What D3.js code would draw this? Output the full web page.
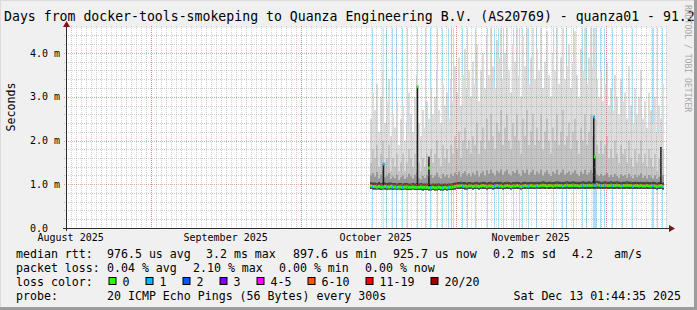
<!DOCTYPE html>
<html>
<head>
<meta charset="utf-8">
<script src="https://cdn.jsdelivr.net/npm/d3@7"></script>
<style>
  html, body { margin: 0; padding: 0; background: #f0f0f0; }
  svg { display: block; }
  text { font-family: "DejaVu Sans Mono", monospace; white-space: pre; }
</style>
</head>
<body>
<svg id="chart" width="697" height="310"></svg>
<script>
// ---- data ----
const title = 'Days from docker-tools-smokeping to Quanza Engineering B.V. (AS20769) - quanza01 - 91.2';
const yTicks = [0, 1, 2, 3, 4];
const yTickLabels = ['0.0  ', '1.0 m', '2.0 m', '3.0 m', '4.0 m'];
const monthLabelFormat = '%B %Y';

// one sample every 9.6 h from 2025-10-14 21:00, values in ms
const medianMs = [
  0.96,0.95,0.95,0.94,0.95,0.94,0.94,0.95,0.94,0.94, 0.95,0.94,0.94,0.93,0.94,0.94,0.93,0.94,0.94,0.93,
  0.93,0.94,0.93,0.93,0.93,0.94,0.93,0.93,0.93,0.92, 0.92,0.93,0.92,0.92,0.93,0.92,0.92,0.93,0.92,0.93,
  0.93,0.94,0.95,0.96,0.96,0.97,0.96,0.96,0.95,0.96, 0.96,0.95,0.96,0.96,0.95,0.96,0.97,0.96,0.95,0.96,
  0.96,0.95,0.96,0.97,0.96,0.96,0.95,0.96,0.97,0.96, 0.95,0.96,0.96,0.97,0.96,0.95,0.96,0.97,0.96,0.96,
  0.97,0.96,0.96,0.97,0.96,0.97,0.98,0.97,0.96,0.97, 0.97,0.96,0.97,0.98,0.97,0.97,0.96,0.97,0.98,0.97,
  0.97,0.98,0.97,0.97,0.96,0.97,0.98,0.97,0.97,0.98, 0.97,0.98,0.97,0.99,0.98,0.97,0.97,0.98,0.97,0.97,
  0.98,0.97,0.97,0.98,0.97,0.96,0.97,0.97,0.98,0.97, 0.97,0.96,0.97,0.97,0.96,0.97,0.96,0.96,0.97,0.96,
  0.96,0.97,0.96,0.95,0.96,0.96,0.95,0.95];
const smokeLowMs = [
  0.89,0.88,0.88,0.88,0.88,0.87,0.88,0.88,0.87,0.88, 0.88,0.87,0.88,0.87,0.88,0.87,0.87,0.88,0.87,0.87,
  0.87,0.88,0.87,0.87,0.87,0.87,0.86,0.87,0.87,0.86, 0.86,0.87,0.86,0.86,0.87,0.86,0.86,0.87,0.86,0.87,
  0.87,0.87,0.88,0.89,0.89,0.89,0.89,0.88,0.88,0.89, 0.89,0.88,0.89,0.89,0.88,0.89,0.89,0.89,0.88,0.89,
  0.89,0.88,0.89,0.89,0.89,0.89,0.88,0.89,0.89,0.89, 0.88,0.89,0.89,0.89,0.89,0.88,0.89,0.89,0.89,0.89,
  0.89,0.89,0.89,0.90,0.89,0.89,0.90,0.89,0.89,0.89, 0.89,0.89,0.89,0.90,0.89,0.89,0.89,0.89,0.90,0.89,
  0.89,0.90,0.89,0.89,0.89,0.89,0.90,0.89,0.89,0.90, 0.89,0.90,0.89,0.90,0.90,0.89,0.89,0.90,0.89,0.89,
  0.90,0.89,0.89,0.90,0.89,0.89,0.89,0.89,0.90,0.89, 0.89,0.89,0.89,0.89,0.89,0.89,0.89,0.89,0.89,0.89,
  0.89,0.89,0.89,0.88,0.89,0.89,0.88,0.88];
const smokeDarkMs = [
  1.05,1.04,1.04,1.03,1.05,1.03,1.04,1.04,1.03,1.04, 1.04,1.03,1.03,1.02,1.03,1.03,1.02,1.03,1.03,1.02,
  1.02,1.03,1.02,1.03,1.02,1.03,1.02,1.02,1.02,1.01, 1.01,1.02,1.01,1.02,1.02,1.01,1.01,1.02,1.01,1.02,
  1.02,1.03,1.04,1.05,1.05,1.06,1.05,1.05,1.04,1.05, 1.05,1.04,1.05,1.06,1.04,1.05,1.06,1.05,1.04,1.05,
  1.06,1.04,1.05,1.06,1.05,1.06,1.04,1.05,1.06,1.05, 1.04,1.05,1.05,1.06,1.05,1.04,1.05,1.06,1.05,1.05,
  1.06,1.05,1.05,1.06,1.05,1.06,1.07,1.06,1.05,1.06, 1.06,1.05,1.06,1.07,1.06,1.06,1.05,1.06,1.07,1.06,
  1.06,1.07,1.06,1.06,1.05,1.06,1.07,1.06,1.06,1.07, 1.06,1.07,1.06,1.08,1.07,1.06,1.06,1.07,1.06,1.06,
  1.07,1.06,1.06,1.07,1.06,1.05,1.06,1.06,1.07,1.06, 1.06,1.05,1.06,1.06,1.05,1.06,1.05,1.05,1.06,1.05,
  1.05,1.06,1.05,1.04,1.05,1.05,1.04,1.04];
const smokeGreyMs = [
  1.20,1.26,1.18,1.28,1.14,1.22,1.30,1.16,1.20,1.26, 1.12,1.18,1.14,1.22,1.10,1.16,1.20,1.12,1.16,1.24,
  1.18,1.13,1.22,1.28,1.15,1.11,1.19,1.14,1.21,1.16, 1.22,1.15,1.20,1.27,1.17,1.13,1.24,1.18,1.22,1.15,
  1.24,1.19,1.27,1.21,1.29,1.17,1.25,1.30,1.20,1.25, 1.18,1.27,1.22,1.31,1.18,1.25,1.30,1.20,1.32,1.24,
  1.33,1.26,1.20,1.31,1.27,1.34,1.22,1.29,1.33,1.24, 1.20,1.30,1.26,1.33,1.24,1.19,1.32,1.26,1.34,1.22,
  1.28,1.33,1.22,1.29,1.24,1.33,1.20,1.27,1.32,1.24, 1.19,1.29,1.24,1.33,1.22,1.27,1.34,1.22,1.26,1.30,
  1.21,1.27,1.32,1.24,1.19,1.29,1.24,1.33,1.22,1.27, 1.33,1.26,1.32,1.22,1.19,1.24,1.19,1.22,1.26,1.17,
  1.21,1.17,1.24,1.19,1.15,1.23,1.19,1.21,1.15,1.24, 1.18,1.14,1.22,1.16,1.20,1.25,1.15,1.19,1.13,1.21,
  1.17,1.13,1.20,1.12,1.17,1.15,1.21,1.11];
const smokeMidMs = [
  1.5,1.8,1.6,1.9,1.4,1.7,2.0,1.5,1.6,1.9, 1.3,1.6,1.4,1.7,1.3,1.5,1.7,1.3,1.5,1.8,
  1.6,1.4,1.7,2.0,1.5,1.3,1.6,1.4,1.7,1.5, 1.8,1.5,1.7,2.0,1.6,1.4,1.9,1.6,1.8,1.5,
  1.9,1.7,2.1,1.8,2.2,1.6,2.0,2.3,1.8,2.0, 1.7,2.1,1.9,2.4,1.7,2.0,2.3,1.8,2.5,2.0,
  2.6,2.1,1.8,2.4,2.2,2.7,1.9,2.3,2.6,2.0, 1.8,2.4,2.1,2.6,2.0,1.7,2.5,2.1,2.7,1.9,
  2.2,2.6,1.9,2.3,2.0,2.6,1.8,2.2,2.5,2.0, 1.7,2.3,2.0,2.6,1.9,2.2,2.7,1.9,2.1,2.4,
  1.8,2.2,2.5,2.0,1.7,2.3,2.0,2.6,1.9,2.2, 2.6,2.1,2.5,1.9,1.7,2.0,1.7,1.9,2.1,1.6,
  1.8,1.6,2.0,1.7,1.5,1.9,1.7,1.8,1.5,2.0, 1.6,1.4,1.8,1.5,1.7,2.0,1.5,1.7,1.4,1.8,
  1.6,1.4,1.7,1.3,1.6,1.5,1.8,1.3];
const smokeTopMs = [
  2.5,3.1,2.7,3.3,2.2,3.0,3.6,2.4,2.9,3.4, 2.1,2.6,2.3,2.9,1.9,2.5,2.8,2.0,2.4,3.1,
  2.6,2.2,3.0,3.5,2.4,2.1,2.7,2.3,2.9,2.5, 3.2,2.6,3.0,3.6,2.7,2.4,3.3,2.8,3.1,2.5,
  3.4,2.9,3.7,3.1,3.9,2.8,3.5,4.1,3.2,3.6, 3.0,3.8,3.3,4.2,2.9,3.6,4.0,3.2,4.4,3.5,
  4.6,3.7,3.2,4.3,3.9,4.6,3.4,4.0,4.6,3.6, 3.1,4.2,3.8,4.6,3.5,3.0,4.4,3.7,4.6,3.3,
  3.9,4.6,3.4,4.1,3.6,4.6,3.2,3.8,4.5,3.5, 3.0,4.0,3.6,4.6,3.3,3.9,4.6,3.4,3.7,4.2,
  3.2,3.8,4.5,3.5,3.0,4.1,3.6,4.6,3.3,3.9, 4.6,3.7,4.6,3.4,3.0,3.6,2.9,3.3,3.8,2.8,
  3.2,2.7,3.5,3.0,2.6,3.4,2.9,3.1,2.5,3.7, 2.8,2.4,3.2,2.6,3.0,3.6,2.5,2.9,2.3,3.1,
  2.7,2.4,3.0,2.2,2.8,2.5,3.3,2.1];

// one-step spikes where the whole ping set jumped (days since 2025-10-01)
const spikeDays = [16.4, 23.2, 25.5, 58.45, 58.65, 71.9];
const spikeTopMs = [1.46, 3.23, 1.63, 2.55, 1.65, 1.85];
const spikeMedMs = [1.46, 3.23, 1.37, 2.54, 1.63, 0.97];
const spikeLoss = [1, 0, 0, 1, 0, 0];

// packet loss events (days since 2025-10-01), width in days
const lossDays = [14.28, 16.4, 17.08, 18.28, 19.08, 20.28, 21.28, 23.28, 24.88, 25.88, 27.28, 28.28, 29.48,
  30.08, 30.48, 32.28, 33.28, 34.88, 37.28, 38.68, 39.48, 40.48, 42.48, 43.68, 44.28, 45.48, 47.08,
  50.48, 52.28, 53.08, 54.48, 56.28, 57.08, 58.42, 59.88, 60.68, 62.28, 64.28, 66.28, 70.28, 71.28, 72.28];
const lossWidth = [0.2, 0.2, 0.2, 0.2, 0.2, 0.2, 0.2, 0.2, 0.2, 0.2, 0.2, 0.2, 0.2,
  0.2, 0.2, 0.2, 0.2, 0.2, 0.2, 0.2, 0.2, 0.2, 0.2, 0.2, 0.2, 0.2, 0.2,
  0.2, 0.2, 0.2, 0.2, 0.2, 0.2, 0.8, 0.2, 0.2, 0.2, 0.2, 0.2, 0.4, 0.2, 0.2];

const lossColorNames = ['0', '1', '2', '3', '4-5', '6-10', '11-19', '20/20'];
const lossColors = ['#26ff00', '#00b8ff', '#0059ff', '#7e00ff', '#ff00ff', '#ff5500', '#ff0000', '#a10000'];

const legendRtt = [['median rtt:', 16], ['976.5 us avg', 107], ['3.2 ms max', 206], ['897.6 us min', 293],
  ['925.7 us now', 393], ['0.2 ms sd', 493], ['4.2', 572], ['am/s', 614]];
const legendLoss = [['packet loss:', 16], ['0.04 % avg', 107], ['2.10 % max', 193], ['0.00 % min', 279], ['0.00 % now', 365]];
const probeText = '20 ICMP Echo Pings (56 Bytes) every 300s';
const stampText = 'Sat Dec 13 01:44:35 2025';

// ---- layout ----
const W = 697, H = 310;
const X0 = 66, X1 = 666, Y0 = 228, Y1 = 28;
const start = new Date('2025-08-15T01:44:35Z');
const end = new Date('2025-12-13T01:44:35Z');
const dataStart = new Date('2025-10-14T21:00:00Z');
const stepMs = 9.6 * 3600e3;
const oct1 = Date.UTC(2025, 9, 1);

const x = d3.scaleUtc().domain([start, end]).range([X0, X1]);
const y = d3.scaleLinear().domain([0, 200 / 43.75]).range([Y0, Y1]);

const svg = d3.select('#chart');
svg.append('rect').attr('width', W).attr('height', H).attr('fill', '#f0f0f0');
svg.append('rect').attr('x', X0).attr('y', Y1).attr('width', X1 - X0).attr('height', Y0 - Y1).attr('fill', '#fff');

svg.append('clipPath').attr('id', 'plot')
  .append('rect').attr('x', X0).attr('y', Y1).attr('width', X1 - X0).attr('height', Y0 - Y1);
const g = svg.append('g').attr('clip-path', 'url(#plot)');

const samples = medianMs.map((m, i) => ({
  t: new Date(+dataStart + i * stepMs),
  med: m, low: smokeLowMs[i], dark: smokeDarkMs[i], grey: smokeGreyMs[i], mid: smokeMidMs[i], top: smokeTopMs[i]
}));
const dayDate = d => new Date(oct1 + d * 864e5);

// loss background
g.selectAll('rect.lossbg').data(lossDays).enter().append('rect')
  .attr('x', d => x(dayDate(d)))
  .attr('y', Y1)
  .attr('width', (d, i) => x(dayDate(d + lossWidth[i])) - x(dayDate(d)))
  .attr('height', Y0 - Y1)
  .attr('fill', '#a6e2fb');

// smoke: outer ping pairs light, inner ones dark (smokeping grey ramp)
const band = hi => d3.area().curve(d3.curveStepAfter)
  .x(d => x(d.t)).y0(d => y(d.low)).y1(d => y(d[hi]));
[['top', '#dddddd'], ['mid', '#c4c4c4'], ['grey', '#999999'], ['dark', '#454545']].forEach(([k, c]) => {
  g.append('path').attr('d', band(k)(samples)).attr('fill', c);
});

// spikes
spikeDays.forEach((d, i) => {
  g.append('rect').attr('x', x(dayDate(d))).attr('width', 1.6)
    .attr('y', y(spikeTopMs[i])).attr('height', y(0.92) - y(spikeTopMs[i])).attr('fill', '#1e1e1e');
});

// median
const medArea = d3.area().curve(d3.curveStepAfter)
  .x(d => x(d.t)).y0(d => y(d.med) + 1.5).y1(d => y(d.med) - 1.5);
g.append('path').attr('d', medArea(samples)).attr('fill', lossColors[0]);
const medAt = t => samples[Math.max(0, Math.min(samples.length - 1, Math.floor((t - dataStart) / stepMs)))].med;
lossDays.forEach((d, i) => {
  const t = dayDate(d);
  g.append('rect').attr('x', x(t)).attr('width', x(dayDate(d + lossWidth[i])) - x(t))
    .attr('y', y(medAt(t)) - 1.5).attr('height', 3).attr('fill', lossColors[1]);
});
spikeDays.forEach((d, i) => {
  g.append('rect').attr('x', x(dayDate(d))).attr('width', 2)
    .attr('y', y(spikeMedMs[i]) - 1.5).attr('height', 3).attr('fill', lossColors[spikeLoss[i]]);
});

// grid (drawn over the graph like rrdtool)
const grid = svg.append('g');
const gridCol = 'rgba(140,140,140,0.4)', mgridCol = 'rgba(230,60,60,0.45)';
const minorY = d3.range(1, 23).map(k => k * 0.2).filter(v => Math.abs(v - Math.round(v)) > 0.01);
grid.selectAll('line.hy').data(minorY).enter().append('line')
  .attr('x1', X0 - 2).attr('x2', X1 + 2).attr('y1', d => Math.round(y(d)) + 0.5).attr('y2', d => Math.round(y(d)) + 0.5)
  .attr('stroke', gridCol).attr('stroke-dasharray', '1,1');
const days = d3.utcDay.range(start, end);
grid.selectAll('line.vx').data(days).enter().append('line')
  .attr('x1', d => Math.round(x(d)) + 0.5).attr('x2', d => Math.round(x(d)) + 0.5)
  .attr('y1', Y1 - 2).attr('y2', Y0 + 2)
  .attr('stroke', gridCol).attr('stroke-dasharray', '1,1');
grid.selectAll('line.my').data(yTicks.slice(1)).enter().append('line')
  .attr('x1', X0 - 2).attr('x2', X1 + 2).attr('y1', d => Math.round(y(d)) + 0.5).attr('y2', d => Math.round(y(d)) + 0.5)
  .attr('stroke', mgridCol).attr('stroke-dasharray', '1,1');
const months = d3.utcMonth.range(start, end);
grid.selectAll('line.mx').data(months).enter().append('line')
  .attr('x1', d => Math.round(x(d)) + 0.5).attr('x2', d => Math.round(x(d)) + 0.5)
  .attr('y1', Y1 - 2).attr('y2', Y0 + 2)
  .attr('stroke', mgridCol).attr('stroke-dasharray', '1,1');

// axes
const axisCol = '#2c2c2c';
svg.append('line').attr('x1', X0 - 3).attr('x2', X1 + 4).attr('y1', Y0 + 0.5).attr('y2', Y0 + 0.5).attr('stroke', axisCol);
svg.append('line').attr('x1', X0 + 0.5).attr('x2', X0 + 0.5).attr('y1', Y0 + 3).attr('y2', Y1 - 4).attr('stroke', axisCol);
svg.append('path').attr('d', `M${X1 + 3},${Y0 - 3}L${X1 + 9},${Y0 + 0.5}L${X1 + 3},${Y0 + 4}Z`).attr('fill', '#7f1414');
svg.append('path').attr('d', `M${X0 - 3},${Y1 - 1}L${X0 + 0.5},${Y1 - 7}L${X0 + 4},${Y1 - 1}Z`).attr('fill', '#7f1414');

// y labels
svg.selectAll('text.yl').data(yTicks).enter().append('text')
  .attr('x', 60).attr('y', d => y(d) + 3.5).attr('text-anchor', 'end')
  .attr('font-size', 10).text((d, i) => yTickLabels[i]);
// x labels: centred 15 days after month start, like rrdtool; only those that fit
const fmt = d3.utcFormat(monthLabelFormat);
const labelMonths = d3.utcMonth.range(d3.utcMonth.floor(start), end)
  .filter(d => +d + 15 * 864e5 <= +end - 15 * 864e5);
svg.selectAll('text.xl').data(labelMonths).enter().append('text')
  .attr('x', d => x(new Date(+d + 15 * 864e5))).attr('y', 241)
  .attr('text-anchor', 'middle').attr('font-size', 10).text(d => fmt(d));

// titles
svg.append('text').attr('x', 4).attr('y', 21).attr('font-size', 13.2).text(title);
svg.append('text').attr('transform', 'translate(14.5,107) rotate(-90)').attr('text-anchor', 'middle')
  .attr('font-size', 11.6).text('Seconds');
svg.append('text').attr('transform', 'translate(685,5) rotate(90)').attr('font-size', 8.1)
  .attr('fill', '#a8a8a8').text('RRDTOOL / TOBI OETIKER');

// legend
const lg = svg.append('g').attr('font-size', 11.6);
legendRtt.forEach(([t, px]) => lg.append('text').attr('x', px).attr('y', 258).text(t));
legendLoss.forEach(([t, px]) => lg.append('text').attr('x', px).attr('y', 272).text(t));
lg.append('text').attr('x', 16).attr('y', 286).text('loss color:');
let lx = 108.5;
lossColorNames.forEach((n, i) => {
  lg.append('rect').attr('x', lx + 0.5).attr('y', 277.5).attr('width', 7).attr('height', 7)
    .attr('fill', lossColors[i]).attr('stroke', '#000');
  lg.append('text').attr('x', lx + 14).attr('y', 286).text(n);
  lx += 14 + n.length * 7 + 16;
});
lg.append('text').attr('x', 16).attr('y', 300).text('probe:');
lg.append('text').attr('x', 107).attr('y', 300).text(probeText);
lg.append('text').attr('x', 681).attr('y', 300).attr('text-anchor', 'end').text(stampText);

// frame
svg.append('rect').attr('x', 0).attr('y', 0).attr('width', W).attr('height', 1).attr('fill', '#dcdcdc');
svg.append('rect').attr('x', 0).attr('y', 0).attr('width', 1).attr('height', H).attr('fill', '#dcdcdc');
svg.append('rect').attr('x', 0).attr('y', H - 3).attr('width', W).attr('height', 3).attr('fill', '#9c9c9c');
svg.append('rect').attr('x', W - 3).attr('y', 0).attr('width', 3).attr('height', H).attr('fill', '#9c9c9c');
</script>
</body>
</html>
